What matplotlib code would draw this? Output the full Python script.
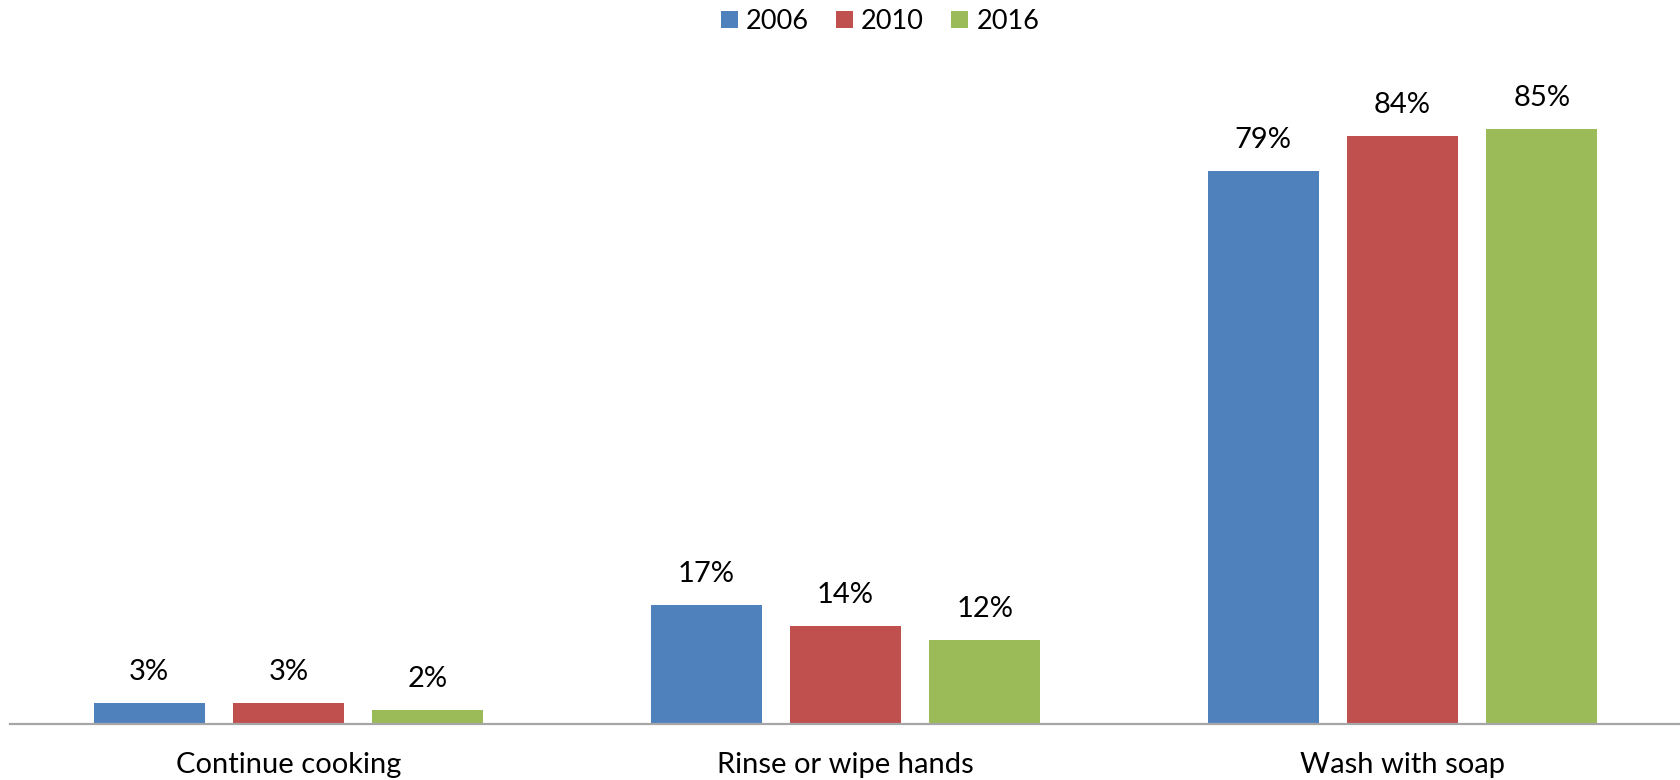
import matplotlib.pyplot as plt
from matplotlib.patches import Patch
import numpy as np

categories = ["Continue cooking", "Rinse or wipe hands", "Wash with soap"]
years = ["2006", "2010", "2016"]
values_2006 = [3, 17, 79]
values_2010 = [3, 14, 84]
values_2016 = [2, 12, 85]
series = [values_2006, values_2010, values_2016]
colors = ["#4F81BD", "#C0504D", "#9BBB59"]

plt.rcParams["font.family"] = ["Lato", "DejaVu Sans"]

W, H = 1681, 780
fig = plt.figure(figsize=(W / 100, H / 100), dpi=100)
ax = fig.add_axes([10 / W, 56 / H, 1671 / W, 630 / H])

x = np.arange(len(categories))
bar_w = 0.2
step = 0.25
for i, (vals, col) in enumerate(zip(series, colors)):
    pos = x + (i - 1) * step
    bars = ax.bar(pos, vals, width=bar_w, color=col, label=years[i], zorder=2)
    for b, v in zip(bars, vals):
        ax.annotate(f"{v}%", (b.get_x() + b.get_width() / 2, v),
                    xytext=(0, 13), textcoords="offset points",
                    ha="center", va="bottom", fontsize=21, color="#000000")

ax.set_xlim(-0.5, len(categories) - 0.5)
ax.set_ylim(0, 90)
ax.set_xticks(x)
ax.set_xticklabels(categories, fontsize=21, color="#000000")
ax.tick_params(axis="x", length=0, pad=20)
ax.set_yticks([])
for s in ["top", "left", "right"]:
    ax.spines[s].set_visible(False)
ax.spines["bottom"].set_color("#A6A6A6")
ax.spines["bottom"].set_linewidth(1.6)
ax.spines["bottom"].set_zorder(3)

handles = [Patch(facecolor=c, label=y) for c, y in zip(colors, years)]
fig.legend(handles=handles, loc="center", bbox_to_anchor=(880 / W, 1 - 21.5 / H),
           ncol=3, frameon=False, fontsize=19.5, handlelength=0.63,
           handleheight=0.63, handletextpad=0.3, columnspacing=1.0)

fig.savefig("out.png", dpi=100, facecolor="white")
